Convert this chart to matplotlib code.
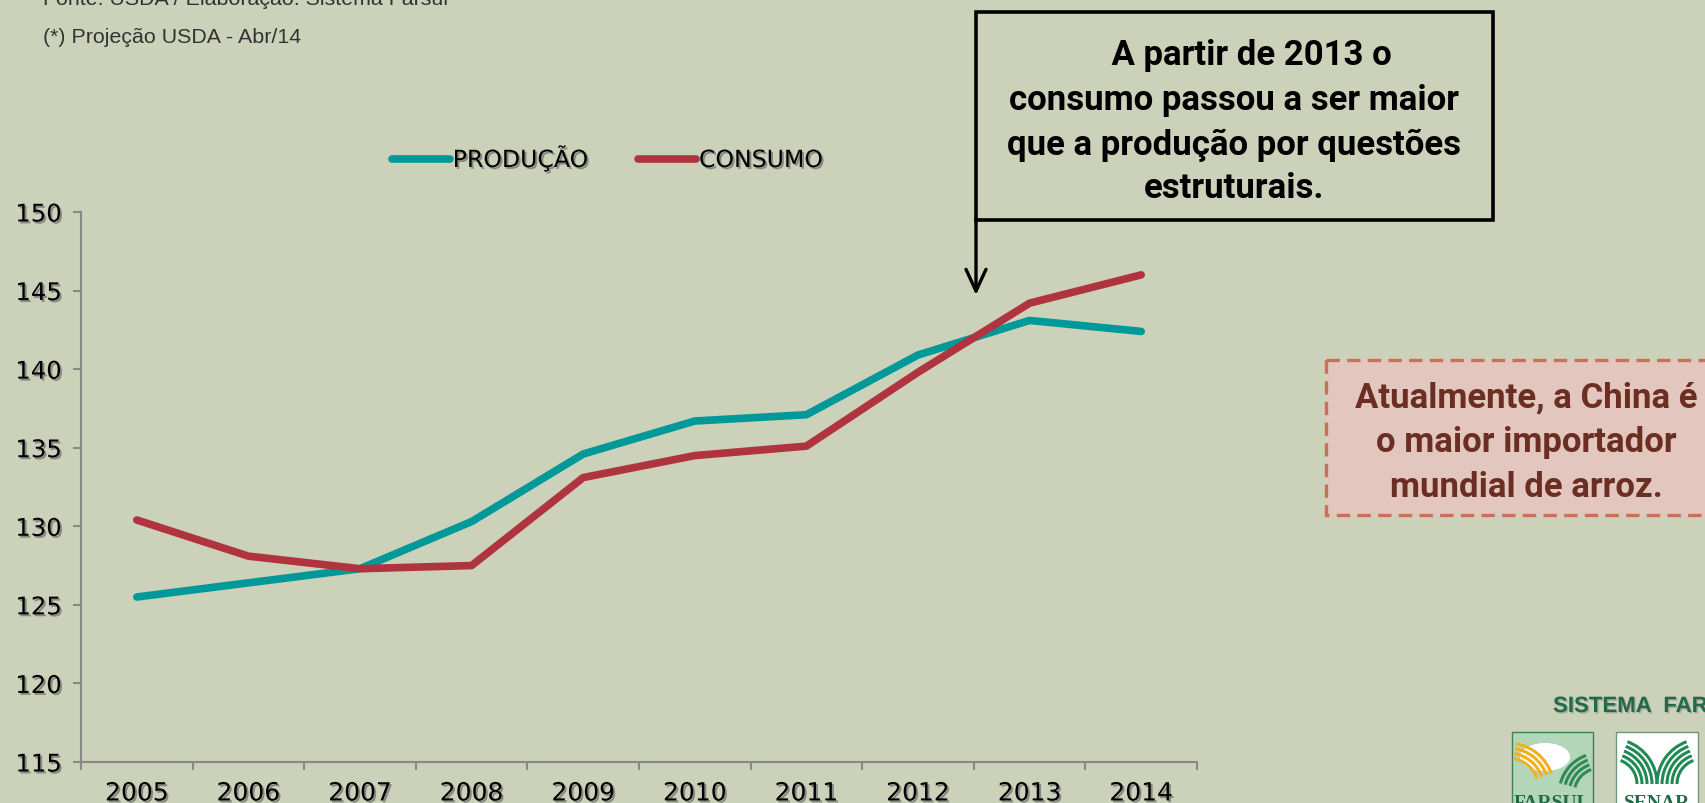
import matplotlib
matplotlib.use("Agg")
import matplotlib.pyplot as plt
import matplotlib.patheffects as pe
from matplotlib.patches import Rectangle, Arc, Ellipse
from matplotlib.lines import Line2D
import numpy as np

# ---- data ----
years = ['2005', '2006', '2007', '2008', '2009', '2010', '2011', '2012', '2013', '2014']
producao = [125.5, 126.4, 127.3, 130.3, 134.6, 136.7, 137.1, 140.9, 143.1, 142.4]
consumo = [130.4, 128.1, 127.3, 127.5, 133.1, 134.5, 135.1, 139.8, 144.2, 146.0]
yticks = [115, 120, 125, 130, 135, 140, 145, 150]
series_labels = ['PRODUÇÃO', 'CONSUMO']

W, H = 1706, 804
BG = '#CCD1B9'
TEAL = '#00999A'
RED = '#B03440'

fig = plt.figure(figsize=(W / 100, H / 100), dpi=100, facecolor=BG)

def fx(x):
    return x / W

def fy(y):
    return 1 - y / H

shadow = [pe.withSimplePatchShadow(offset=(1.4, -1.4), shadow_rgbFace='#707070', alpha=0.75)]

# ---- main chart ----
ax = fig.add_axes([fx(81), fy(763), fx(1197) - fx(81), fy(213) - fy(763)])
ax.set_facecolor(BG)
x = np.arange(len(years))
ax.plot(x, producao, color=TEAL, lw=5.5, solid_capstyle='round', solid_joinstyle='round', zorder=3)
ax.plot(x, consumo, color=RED, lw=5.5, solid_capstyle='round', solid_joinstyle='round', zorder=3)

ax.set_xlim(-0.5, len(years) - 0.5)
ax.set_ylim(115, 150)
ax.set_yticks(yticks)
ax.set_yticklabels([str(v) for v in yticks])
ax.set_xticks(x)
ax.set_xticklabels(years)
ax.set_xticks(np.arange(-0.5, len(years)), minor=True)
ax.tick_params(axis='x', which='major', length=0, pad=14)
ax.tick_params(axis='x', which='minor', length=6, width=1.5, color='#888888')
ax.tick_params(axis='y', length=6, width=1.5, color='#888888', pad=8)
for lab in ax.get_yticklabels():
    lab.set_fontsize(17.5)
    lab.set_family('DejaVu Sans')
    lab.set_color('black')
    lab.set_path_effects(shadow)
for lab in ax.get_xticklabels():
    lab.set_fontsize(18)
    lab.set_family('DejaVu Sans')
    lab.set_color('black')
    lab.set_path_effects(shadow)
for s in ['top', 'right']:
    ax.spines[s].set_visible(False)
for s in ['left', 'bottom']:
    ax.spines[s].set_color('#888888')
    ax.spines[s].set_linewidth(1.5)

# legend
handles = [Line2D([], [], color=TEAL, lw=5.5, solid_capstyle='round'),
           Line2D([], [], color=RED, lw=5.5, solid_capstyle='round')]
leg = fig.legend(handles, series_labels, loc='center left',
                 bbox_to_anchor=(fx(392), fy(159)), ncol=2, frameon=False,
                 prop={'family': 'DejaVu Sans', 'size': 17},
                 handlelength=2.45, handletextpad=0.12, columnspacing=2.1,
                 borderpad=0, borderaxespad=0)
for t in leg.get_texts():
    t.set_path_effects(shadow)

# ---- overlay in pixel coords ----
ov = fig.add_axes([0, 0, 1, 1], facecolor='none')
ov.set_xlim(0, W)
ov.set_ylim(H, 0)
ov.axis('off')

# source notes
ov.text(43, 5, 'Fonte: USDA / Elaboração: Sistema Farsul', fontsize=15.4,
        family='Liberation Sans', color='#333333', va='baseline', ha='left')
ov.text(43, 43, '(*) Projeção USDA - Abr/14', fontsize=15.4,
        family='Liberation Sans', color='#333333', va='baseline', ha='left')

# annotation box (black)
ov.add_patch(Rectangle((976, 13), 1493 - 976, 221 - 13, facecolor='none',
                       edgecolor='black', lw=2.6, zorder=5))
box_lines = ['    A partir de 2013 o', 'consumo passou a ser maior',
             'que a produção por questões', 'estruturais.']
box_base = [65, 110, 155, 198]
for txt, yb in zip(box_lines, box_base):
    ov.text(1234, yb, txt, fontsize=25, family='Roboto', weight='bold',
            color='black', ha='center', va='baseline', zorder=6)
ov.annotate('', xy=(976, 296), xytext=(976, 219),
            arrowprops=dict(arrowstyle='->,head_length=1.3,head_width=0.6',
                            color='black', lw=2.4, mutation_scale=12,
                            shrinkA=0, shrinkB=0))

# red dashed box
ov.add_patch(Rectangle((1326, 361), 420, 516 - 361, facecolor='#E3C6BE',
                       edgecolor='#C8705A', lw=2.4, linestyle=(0, (4, 2.2)), zorder=5))
red_lines = ['Atualmente, a China é', 'o maior importador', 'mundial de arroz.']
red_base = [407, 452, 497]
for txt, yb in zip(red_lines, red_base):
    ov.text(1526, yb, txt, fontsize=25, family='Roboto', weight='bold',
            color='#6B2E22', ha='center', va='baseline', zorder=6)

# logos (simplified)
ov.text(1553, 713, 'SISTEMA  FARSUL', fontsize=16, family='Liberation Sans',
        weight='bold', color='#1F6B45', ha='left', va='baseline',
        path_effects=[pe.withSimplePatchShadow(offset=(1, -1), shadow_rgbFace='#999999', alpha=0.8)])

farsul_box = Rectangle((1512, 733), 81, 80, facecolor='#B3D5B8', edgecolor='#3F7F5A', lw=1, zorder=4)
ov.add_patch(farsul_box)
cloud = Ellipse((1545, 758), 50, 28, facecolor='white', edgecolor='none', zorder=4.5)
ov.add_patch(cloud)
cloud.set_clip_path(farsul_box)
for r in [16, 21, 26, 31]:
    a = Arc((1508, 790), 2 * r + 30, 2 * r + 30, theta1=280, theta2=340,
            color='#F0B020', lw=2.2, zorder=5)
    ov.add_patch(a)
    a.set_clip_path(farsul_box)
    b = Arc((1600, 795), 2 * r + 20, 2 * r + 20, theta1=195, theta2=250,
            color='#2E8B57', lw=2.2, zorder=5)
    ov.add_patch(b)
    b.set_clip_path(farsul_box)
ov.text(1552, 808, 'FARSUL', fontsize=14, family='Liberation Serif', weight='bold',
        color='#1F6B45', ha='center', va='baseline', zorder=6)

senar_box = Rectangle((1616, 733), 82, 80, facecolor='white', edgecolor='#6A9A7A', lw=1, zorder=4)
ov.add_patch(senar_box)
for r in [10, 15, 20, 25, 30]:
    a = Arc((1612, 785), 2 * r + 30, 2 * r + 30, theta1=290, theta2=360,
            color='#1F8A55', lw=2.2, zorder=5)
    ov.add_patch(a)
    a.set_clip_path(senar_box)
    b = Arc((1702, 785), 2 * r + 30, 2 * r + 30, theta1=180, theta2=250,
            color='#1F8A55', lw=2.2, zorder=5)
    ov.add_patch(b)
    b.set_clip_path(senar_box)
ov.text(1657, 808, 'SENAR', fontsize=14, family='Liberation Serif', weight='bold',
        color='#1F6B45', ha='center', va='baseline', zorder=6)

fig.savefig('out.png', dpi=100, facecolor=BG)
